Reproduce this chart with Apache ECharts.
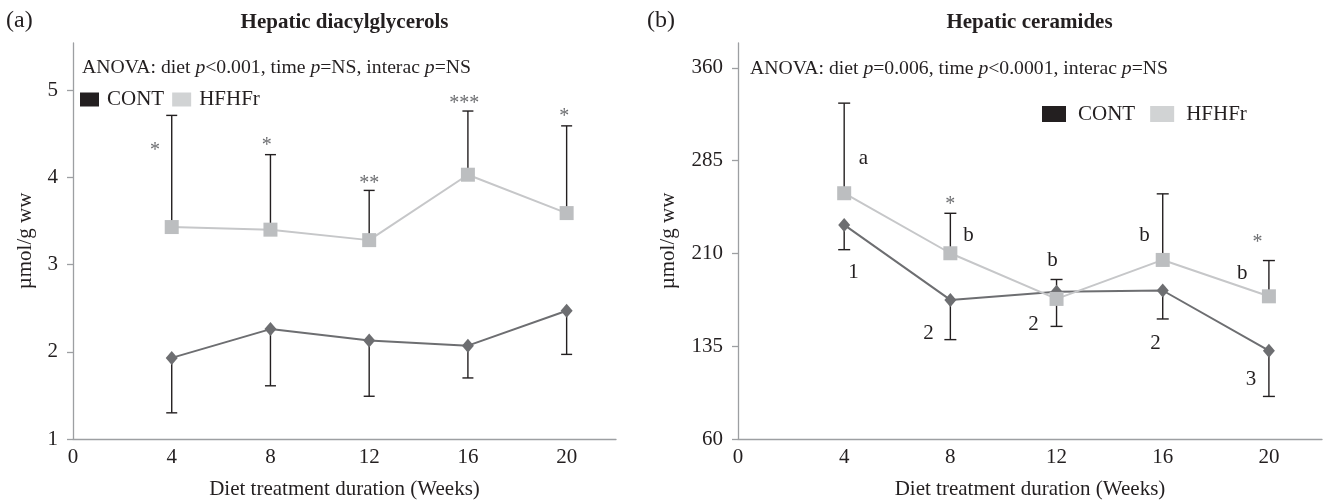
<!DOCTYPE html>
<html>
<head>
<meta charset="utf-8">
<script src="https://cdn.jsdelivr.net/npm/echarts@6/dist/echarts.min.js"></script>
<style>
html,body{margin:0;padding:0;background:#fff;}
#chart{width:1324px;height:500px;}
</style>
</head>
<body>
<div id="chart"></div>
<script>
// ---------- data ----------
const weeks = [4, 8, 12, 16, 20];
const xTicks = [0, 4, 8, 12, 16, 20];

// Panel (a): hepatic diacylglycerols (µmol/g ww)
const dagTicks = [1, 2, 3, 4, 5];
const dagCont = [1.93, 2.26, 2.13, 2.07, 2.47];
const dagContLow = [1.30, 1.61, 1.49, 1.70, 1.97];
const dagHf = [3.43, 3.40, 3.28, 4.03, 3.59];
const dagHfHigh = [4.71, 4.26, 3.85, 4.76, 4.59];
const dagMarks = [
  [3.32, 4.30, '*'],
  [7.85, 4.36, '*'],
  [12.0, 3.93, '**'],
  [15.85, 4.84, '***'],
  [19.9, 4.70, '*']
];

// Panel (b): hepatic ceramides (µmol/g ww)
const cerTicks = [60, 135, 210, 285, 360];
const cerCont = [233, 172.4, 179, 180, 131.4];
const cerContLow = [213, 140.3, 151, 157, 94.4];
const cerHf = [258.6, 210.1, 173.2, 204.7, 175.3];
const cerHfHigh = [331.4, 242.4, 188.9, 258.1, 204.2];
const cerStars = [
  [8.0, 249.5, '*'],
  [19.57, 218.7, '*']
];
const cerLetters = [
  [4.72, 286.4, 'a'],
  [8.68, 224.4, 'b'],
  [11.85, 204.2, 'b'],
  [15.31, 224.4, 'b'],
  [19.0, 193.9, 'b'],
  [4.35, 194.7, '1'],
  [7.18, 145.4, '2'],
  [11.13, 152.2, '2'],
  [15.73, 136.8, '2'],
  [19.33, 107.7, '3']
];

// ---------- styles ----------
const FONT = '"Liberation Serif", "Times New Roman", serif';
const TXT = '#231f20';
const AXIS = '#9d9fa2';
const C_CONT = '#6d6e71';
const C_HF = '#bcbec0';
const L_HF = '#c6c7c9';

const chart = echarts.init(document.getElementById('chart'), null, {renderer: 'canvas'});

function pairs(xs, ys) { return xs.map((x, i) => [x, ys[i]]); }
function errData(xs, m, e) { return xs.map((x, i) => [x, m[i], e[i]]); }

function errSeries(xi, data, cap) {
  return {
    type: 'custom', xAxisIndex: xi, yAxisIndex: xi, z: 1, silent: true,
    encode: {x: 0, y: [1, 2]},
    data: data,
    renderItem: function (params, api) {
      const p0 = api.coord([api.value(0), api.value(1)]);
      const p1 = api.coord([api.value(0), api.value(2)]);
      const st = {stroke: TXT, lineWidth: 1.4};
      return {type: 'group', children: [
        {type: 'line', shape: {x1: p0[0], y1: p0[1], x2: p1[0], y2: p1[1]}, style: st},
        {type: 'line', shape: {x1: p1[0] - cap, y1: p1[1], x2: p1[0] + cap, y2: p1[1]}, style: st}
      ]};
    }
  };
}

function textSeries(xi, marks, color, size, dy) {
  return {
    type: 'custom', xAxisIndex: xi, yAxisIndex: xi, z: 5, silent: true,
    encode: {x: 0, y: 1},
    data: marks.map(m => [m[0], m[1]]),
    renderItem: function (params, api) {
      const p = api.coord([api.value(0), api.value(1)]);
      return {type: 'text', x: p[0], y: p[1] + dy, style: {
        text: marks[params.dataIndex][2], fill: color,
        font: size + 'px ' + FONT,
        align: 'center', verticalAlign: 'middle',
        textAlign: 'center', textVerticalAlign: 'middle'
      }};
    }
  };
}

function xAxisDef(gi) {
  return {
    type: 'value', gridIndex: gi, min: 0, max: 22, interval: 4,
    name: 'Diet treatment duration (Weeks)', nameLocation: 'middle', nameGap: 40,
    nameTextStyle: {fontFamily: FONT, fontSize: 21, color: TXT},
    axisLine: {show: true, onZero: false, lineStyle: {color: AXIS, width: 1.3}},
    axisTick: {show: false},
    splitLine: {show: false},
    axisLabel: {customValues: xTicks, margin: 8, fontFamily: FONT, fontSize: 21, color: TXT}
  };
}
function yAxisDef(gi, min, max, interval, ticks, gap) {
  return {
    type: 'value', gridIndex: gi, min: min, max: max, interval: interval,
    name: 'µmol/g ww', nameLocation: 'middle', nameGap: gap,
    nameTextStyle: {fontFamily: FONT, fontSize: 21, color: TXT},
    axisLine: {show: true, onZero: false, lineStyle: {color: AXIS, width: 1.3}},
    axisTick: {show: true, customValues: ticks, length: 6, lineStyle: {color: AXIS, width: 1.3}},
    splitLine: {show: false},
    axisLabel: {customValues: ticks, margin: 15, fontFamily: FONT, fontSize: 21, color: TXT}
  };
}

function anova(parts) {
  return parts.map(p => p[1] ? '{i|' + p[0] + '}' : '{n|' + p[0] + '}').join('');
}
const richA = {
  n: {fontFamily: FONT, fontSize: 19.7, color: TXT},
  i: {fontFamily: FONT, fontSize: 19.7, color: TXT, fontStyle: 'italic'}
};

const titleBase = {padding: 0, textVerticalAlign: 'middle'};
function ttl(text, left, top, align, style) {
  return Object.assign({}, titleBase, {text: text, left: left, top: top, textAlign: align,
    textStyle: Object.assign({fontFamily: FONT, color: TXT, fontWeight: 'normal'}, style)});
}

function lineSeries(name, xi, data, color, lcolor, symbol, size) {
  return {
    name: name, type: 'line', xAxisIndex: xi, yAxisIndex: xi, z: 3,
    data: data, symbol: symbol, symbolSize: size,
    itemStyle: {color: color, borderWidth: 0},
    lineStyle: {color: lcolor, width: 2},
    emphasis: {disabled: true}
  };
}

const option = {
  animation: false,
  backgroundColor: '#ffffff',
  title: [
    ttl('(a)', 6, 21, 'left', {fontSize: 24}),
    ttl('Hepatic diacylglycerols', 344.5, 23, 'center', {fontSize: 21, fontWeight: 'bold'}),
    ttl('(b)', 647, 21, 'left', {fontSize: 24}),
    ttl('Hepatic ceramides', 1029.5, 23, 'center', {fontSize: 21, fontWeight: 'bold'}),
    ttl(anova([['ANOVA: diet '], ['p', 1], ['<0.001, time '], ['p', 1], ['=NS, interac '], ['p', 1], ['=NS']]),
        82, 68, 'left', {rich: richA}),
    ttl(anova([['ANOVA: diet '], ['p', 1], ['=0.006, time '], ['p', 1], ['<0.0001, interac '], ['p', 1], ['=NS']]),
        750, 69, 'left', {rich: richA})
  ],
  legend: [
    {left: 80, top: 89, padding: 0, icon: 'rect', itemWidth: 19, itemHeight: 14, itemGap: 8,
     selectedMode: false, itemStyle: {borderWidth: 0},
     textStyle: {fontFamily: FONT, fontSize: 21, color: TXT, padding: [0, 0, 0, 3]},
     data: [{name: 'CONT', itemStyle: {color: '#231f20'}}, {name: 'HFHFr', itemStyle: {color: '#d1d3d4'}}]},
    {left: 1042, top: 103.5, padding: 0, icon: 'rect', itemWidth: 24, itemHeight: 16, itemGap: 15,
     selectedMode: false, itemStyle: {borderWidth: 0},
     textStyle: {fontFamily: FONT, fontSize: 21, color: TXT, padding: [0, 0, 0, 7]},
     data: [{name: 'CONT', itemStyle: {color: '#231f20'}}, {name: 'HFHFr', itemStyle: {color: '#d1d3d4'}}]}
  ],
  grid: [
    {left: 73, top: 43, width: 543, height: 396, outerBoundsMode: 'none'},
    {left: 738, top: 43, width: 584, height: 396, outerBoundsMode: 'none'}
  ],
  xAxis: [xAxisDef(0), xAxisDef(1)],
  yAxis: [
    yAxisDef(0, 1, 5.54, 1, dagTicks, 37),
    yAxisDef(1, 60, 380, 75, cerTicks, 59)
  ],
  series: [
    errSeries(0, errData(weeks, dagCont, dagContLow), 5.5),
    errSeries(0, errData(weeks, dagHf, dagHfHigh), 5.5),
    lineSeries('CONT', 0, pairs(weeks, dagCont), C_CONT, C_CONT, 'diamond', [12, 14]),
    lineSeries('HFHFr', 0, pairs(weeks, dagHf), C_HF, L_HF, 'rect', 14),
    textSeries(0, dagMarks, C_CONT, 20, 0),

    errSeries(1, errData(weeks, cerCont, cerContLow), 6),
    errSeries(1, errData(weeks, cerHf, cerHfHigh), 6),
    lineSeries('CONT', 1, pairs(weeks, cerCont), C_CONT, C_CONT, 'diamond', [12, 14]),
    lineSeries('HFHFr', 1, pairs(weeks, cerHf), C_HF, L_HF, 'rect', 14),
    textSeries(1, cerStars, C_CONT, 20, 0),
    textSeries(1, cerLetters, TXT, 21, 0)
  ]
};
chart.setOption(option);
</script>
</body>
</html>
